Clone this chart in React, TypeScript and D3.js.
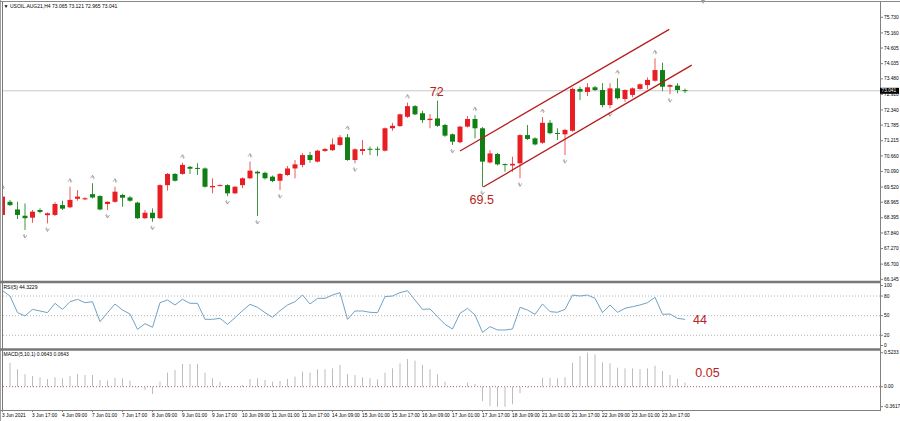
import React from 'react';
import * as d3 from 'd3';

const W = 900;
const H = 421;

const openP = [
  68.50, 68.98, 68.70, 68.47, 68.40, 68.68, 68.49, 68.50, 68.86, 68.78,
  69.09, 69.07, 69.26, 69.19, 68.90, 68.98, 69.23, 69.14, 68.95, 68.38,
  68.58, 68.38, 69.59, 70.00, 70.00, 70.26, 70.22, 70.20, 69.51, 69.57,
  69.59, 69.29, 69.59, 69.84, 70.08, 70.04, 69.90, 69.75, 69.96, 70.20,
  70.33, 70.69, 70.45, 70.84, 70.87, 71.06, 71.34, 70.51, 70.84, 70.92,
  70.92, 70.85, 71.67, 71.75, 72.09, 72.48, 72.22, 71.97, 72.03, 71.79,
  71.45, 71.16, 71.73, 72.01, 71.67, 70.42, 70.73, 70.36, 70.31, 70.39,
  71.42, 71.30, 71.14, 71.87, 71.50, 71.45, 71.58, 73.11, 73.00, 73.17,
  73.07, 72.52, 73.13, 72.74, 72.89, 73.11, 73.25, 73.41, 73.80, 73.19,
  73.23, 73.065,
];
const highP = [
  69.30, 69.05, 68.98, 68.92, 68.68, 68.74, 68.59, 68.97, 69.02, 69.53,
  69.41, 69.15, 69.66, 69.22, 69.00, 69.53, 69.27, 69.19, 68.98, 68.68,
  68.74, 69.62, 70.03, 70.03, 70.41, 70.29, 70.39, 70.24, 69.84, 69.62,
  69.62, 69.56, 69.87, 70.45, 70.12, 70.08, 69.94, 70.03, 70.29, 70.51,
  70.76, 70.81, 70.88, 70.95, 71.30, 71.42, 71.46, 70.94, 71.24, 71.00,
  71.00, 71.70, 71.87, 72.21, 72.61, 72.52, 72.31, 72.19, 72.68, 71.83,
  71.48, 71.76, 72.12, 72.15, 71.72, 70.87, 70.77, 70.38, 70.63, 71.45,
  71.79, 71.34, 72.08, 71.97, 71.67, 71.65, 73.16, 73.19, 73.32, 73.22,
  73.32, 73.32, 73.50, 73.10, 73.16, 73.31, 73.53, 74.23, 74.07, 73.28,
  73.32, 73.121,
];
const lowP = [
  68.42, 68.83, 68.35, 67.95, 68.21, 68.56, 68.19, 68.46, 68.68, 68.75,
  69.02, 69.04, 69.10, 68.67, 68.68, 68.95, 68.80, 68.98, 68.35, 68.35,
  68.25, 68.35, 69.39, 69.72, 69.97, 70.00, 69.96, 69.50, 69.29, 69.55,
  69.19, 69.26, 69.48, 69.81, 68.46, 69.80, 69.70, 69.41, 69.93, 69.84,
  70.24, 70.41, 70.42, 70.80, 70.84, 71.02, 70.48, 70.39, 70.69, 70.69,
  70.65, 70.82, 71.58, 71.72, 72.05, 72.15, 71.87, 71.67, 71.72, 71.36,
  71.06, 71.12, 71.70, 71.30, 69.53, 70.38, 70.31, 70.08, 70.08, 69.84,
  71.24, 71.04, 71.10, 71.45, 71.24, 70.69, 71.54, 72.70, 72.85, 73.03,
  72.44, 72.40, 72.73, 72.64, 72.80, 73.08, 73.10, 73.38, 73.03, 72.92,
  72.95, 72.965,
];
const closeP = [
  69.17, 68.86, 68.50, 68.38, 68.62, 68.61, 68.56, 68.90, 68.73, 69.05,
  69.17, 69.11, 69.14, 68.70, 68.98, 69.35, 69.13, 69.02, 68.38, 68.58,
  68.38, 69.59, 70.00, 69.75, 70.33, 70.19, 70.20, 69.53, 69.56, 69.59,
  69.29, 69.53, 69.84, 70.12, 70.02, 69.84, 69.74, 70.00, 70.20, 70.35,
  70.69, 70.51, 70.85, 70.91, 71.08, 71.34, 70.51, 70.90, 70.91, 70.90,
  70.90, 71.67, 71.76, 72.18, 72.48, 72.18, 71.97, 72.02, 71.76, 71.40,
  71.18, 71.73, 72.01, 71.67, 70.45, 70.75, 70.35, 70.35, 70.37, 71.42,
  71.28, 71.08, 71.87, 71.49, 71.48, 71.61, 73.11, 73.01, 73.17, 73.07,
  72.52, 73.13, 72.77, 73.07, 73.13, 73.28, 73.44, 73.80, 73.19, 73.25,
  73.07, 73.041,
];
const rsiVals = [
  88.1, 80.0, 54.6, 49.5, 59.6, 57.1, 54.6, 68.8, 59.6, 71.3,
  74.9, 69.8, 71.3, 40.8, 54.6, 67.8, 58.6, 52.5, 29.1, 37.8,
  32.2, 69.8, 73.9, 66.3, 74.9, 68.8, 68.8, 44.4, 44.4, 45.9,
  36.7, 46.9, 57.6, 67.3, 62.7, 54.6, 47.4, 57.6, 66.3, 71.3,
  81.5, 67.8, 76.4, 76.4, 81.5, 85.1, 44.4, 57.1, 57.1, 55.1,
  54.6, 79.0, 80.0, 85.1, 88.1, 73.9, 59.6, 60.2, 48.4, 36.7,
  29.6, 53.5, 61.2, 51.0, 24.5, 33.2, 28.1, 28.1, 29.6, 62.7,
  58.6, 52.0, 67.8, 56.1, 55.1, 59.6, 81.5, 80.0, 81.5, 76.4,
  54.6, 66.3, 55.1, 61.2, 63.7, 66.3, 69.8, 78.0, 52.0, 52.5,
  45.9, 44.3229,
];
const macdVals = [
  0.400, 0.370, 0.267, 0.190, 0.165, 0.144, 0.119, 0.144, 0.129, 0.165,
  0.195, 0.180, 0.180, 0.103, 0.093, 0.139, 0.129, 0.093, -0.010, -0.051,
  -0.112, 0.077, 0.216, 0.257, 0.349, 0.349, 0.349, 0.216, 0.129, 0.077,
  0.011, 0.011, 0.026, 0.119, 0.129, 0.103, 0.077, 0.088, 0.119, 0.154,
  0.231, 0.216, 0.267, 0.267, 0.283, 0.334, 0.195, 0.180, 0.144, 0.129,
  0.113, 0.216, 0.283, 0.360, 0.426, 0.401, 0.334, 0.267, 0.190, 0.077,
  0.010, 0.020, 0.062, 0.042, -0.220, -0.300, -0.310, -0.310, -0.270, -0.100,
  -0.015, 0.005, 0.139, 0.139, 0.129, 0.144, 0.370, 0.473, 0.5233, 0.498,
  0.375, 0.360, 0.293, 0.283, 0.283, 0.272, 0.283, 0.324, 0.242, 0.180,
  0.119, 0.0643,
];
const priceTicks = [75.73, 75.16, 74.605, 74.035, 73.48, 72.91, 72.34, 71.785, 71.215, 70.66, 70.09, 69.52, 68.965, 68.395, 67.84, 67.27, 66.7, 66.145];
const rsiTicks = [100, 80, 50, 20, 0];
const rsiLevels = [80, 50, 20];
const macdTicks = [0.5233, 0, -0.3617];
const timeLabels = [
  '3 Jun 2021', '3 Jun 17:00', '4 Jun 09:00', '7 Jun 01:00', '7 Jun 17:00', '8 Jun 09:00',
  '9 Jun 01:00', '9 Jun 17:00', '10 Jun 09:00', '11 Jun 01:00', '11 Jun 17:00', '14 Jun 09:00',
  '15 Jun 01:00', '15 Jun 17:00', '16 Jun 09:00', '17 Jun 01:00', '17 Jun 17:00', '18 Jun 09:00',
  '21 Jun 01:00', '21 Jun 17:00', '22 Jun 09:00', '23 Jun 01:00', '23 Jun 17:00',
];
const fractalUp = [0, 9, 12, 15, 24, 33, 46, 54, 58, 63, 72, 82, 87];
const fractalDown = [3, 6, 14, 20, 30, 34, 37, 47, 60, 64, 69, 75, 81, 89];
const channelUpper = [[61.0, 70.84], [88.9, 75.29]];
const channelLower = [[64.1, 69.52], [91.9, 73.98]];
const priceNotes = [{ text: '72', i: 57.9, v: 72.85 }, { text: '69.5', i: 63.9, v: 68.9 }];
const rsiNote = { text: '44', i: 93.0, v: 37.3 };
const macdNote = { text: '0.05', i: 94.0, v: 0.149 };

const RED = '#e81e25';
const GREEN = '#118014';
const RED_W = '#ec5a5a';
const GREEN_W = '#3f943f';
const NOTE = '#b82222';
const AX = '#808080';
const FONT = '"Liberation Sans", Arial, sans-serif';

export default function App() {
  const n = closeP.length;
  const idx = d3.range(n);
  const x = d3.scaleLinear().domain([0, 91]).range([2.5, 685]);
  const yP = d3.scaleLinear().domain([66.145, 75.73]).range([279.3, 17.3]);
  const yR = d3.scaleLinear().domain([0, 100]).range([348.4, 282.9]);
  const yM = d3.scaleLinear().domain([-0.3617, 0.5233]).range([410.2, 352.7]);
  const last = n - 1;
  const rsiLine = d3.line<number>().x((d, i) => x(i)).y((d) => yR(d))(rsiVals) || '';
  const chLine = d3.line<number[]>().x((d) => x(d[0])).y((d) => yP(d[1]));
  const title = `USOIL.AUG21,H4  ${openP[last].toFixed(3)} ${highP[last].toFixed(3)} ${lowP[last].toFixed(3)} ${closeP[last].toFixed(3)}`;

  return (
    <svg width={W} height={H} style={{ position: 'absolute', left: 0, top: 0, background: '#fff' }} fontFamily={FONT}>
      <defs>
        <clipPath id="cpMain"><rect x={3} y={3} width={877} height={278} /></clipPath>
        <clipPath id="cpRsi"><rect x={3} y={284} width={877} height={64} /></clipPath>
        <clipPath id="cpMacd"><rect x={3} y={351} width={877} height={59} /></clipPath>
      </defs>
      <rect x={0} y={0} width={W} height={H} fill="#fff" />

      {/* main panel */}
      <g clipPath="url(#cpMain)">
        <line x1={3} x2={880} y1={yP(closeP[last])} y2={yP(closeP[last])} stroke="#c8c8c8" strokeWidth={1} />
        {idx.map((i) => {
          const up = closeP[i] >= openP[i];
          const top = yP(Math.max(openP[i], closeP[i]));
          const bot = yP(Math.min(openP[i], closeP[i]));
          return (
            <g key={i}>
              <line x1={x(i)} x2={x(i)} y1={yP(highP[i])} y2={yP(lowP[i])} stroke={up ? RED_W : GREEN_W} strokeWidth={1} />
              <rect x={x(i) - 2.5} y={top} width={5} height={Math.max(1, bot - top)} fill={up ? RED : GREEN} />
            </g>
          );
        })}
        {fractalUp.map((i) => {
          const cx = x(i), cy = yP(highP[i]) - 6;
          return <path key={'u' + i} d={`M${cx - 2},${cy + 1} L${cx},${cy - 2} L${cx + 2},${cy + 1} M${cx},${cy - 2} L${cx + 1},${cy + 2}`} stroke="#9a9a9a" strokeWidth={0.8} fill="none" />;
        })}
        {fractalDown.map((i) => {
          const cx = x(i), cy = yP(lowP[i]) + 6;
          return <path key={'d' + i} d={`M${cx - 2},${cy - 1} L${cx},${cy + 2} L${cx + 2},${cy - 1} M${cx},${cy + 2} L${cx - 1},${cy - 2}`} stroke="#9a9a9a" strokeWidth={0.8} fill="none" />;
        })}
        <path d={chLine(channelUpper) || ''} stroke="#b81c1c" strokeWidth={1.3} fill="none" />
        <path d={chLine(channelLower) || ''} stroke="#b81c1c" strokeWidth={1.3} fill="none" />
        {priceNotes.map((a) => (
          <text key={a.text} x={x(a.i)} y={yP(a.v)} fontSize={12.5} fill={NOTE} textAnchor="middle">{a.text}</text>
        ))}
      </g>
      <text x={3.5} y={8} fontSize={5} fill="#000">▼</text>
      <text x={10} y={8} fontSize={5} fill="#000">{title}</text>

      {/* RSI panel */}
      <g clipPath="url(#cpRsi)">
        {rsiLevels.map((v) => (
          <line key={v} x1={3} x2={880} y1={yR(v)} y2={yR(v)} stroke="#b4b4b4" strokeWidth={1} strokeDasharray="1,2" />
        ))}
        <path d={rsiLine} stroke="#72a2c4" strokeWidth={1} fill="none" />
        <text x={x(rsiNote.i)} y={yR(rsiNote.v)} fontSize={12.5} fill={NOTE} textAnchor="middle">{rsiNote.text}</text>
      </g>
      <text x={3.5} y={289} fontSize={5} fill="#000">{`RSI(5) ${rsiVals[last].toFixed(4)}`}</text>

      {/* MACD panel */}
      <g clipPath="url(#cpMacd)">
        <line x1={3} x2={880} y1={yM(0)} y2={yM(0)} stroke="#b06060" strokeWidth={1} strokeDasharray="1,2" />
        {idx.map((i) => (
          <line key={i} x1={x(i)} x2={x(i)} y1={yM(0)} y2={yM(macdVals[i])} stroke="#bcbcbc" strokeWidth={1} />
        ))}
        <text x={x(macdNote.i)} y={yM(macdNote.v)} fontSize={12.5} fill={NOTE} textAnchor="middle">{macdNote.text}</text>
      </g>
      <text x={3.5} y={356} fontSize={5} fill="#000">{`MACD(5,10,1) ${macdVals[last].toFixed(4)} ${macdVals[last].toFixed(4)}`}</text>

      {/* frames */}
      <line x1={0.5} x2={0.5} y1={0} y2={H} stroke="#a0a0a0" strokeWidth={1} />
      <line x1={2.5} x2={2.5} y1={2} y2={410} stroke="#7a7a7a" strokeWidth={1} />
      <line x1={0} x2={W} y1={1.5} y2={1.5} stroke="#8a8a8a" strokeWidth={1} />
      <line x1={0} x2={880} y1={282} y2={282} stroke="#787878" strokeWidth={2.5} />
      <line x1={0} x2={880} y1={349.5} y2={349.5} stroke="#787878" strokeWidth={2.5} />
      <line x1={880.5} x2={880.5} y1={2} y2={410} stroke={AX} strokeWidth={1} />
      <line x1={0} x2={881} y1={410.5} y2={410.5} stroke={AX} strokeWidth={1} />
      <path d="M701,0 L705,0 L703,4 Z" fill="#9a9a9a" />

      {/* price axis */}
      {priceTicks.map((v) => (
        <g key={v}>
          <line x1={880} x2={883} y1={yP(v)} y2={yP(v)} stroke={AX} />
          <text x={884} y={yP(v)} dy="0.35em" fontSize={4.8} fill="#000">{v.toFixed(3)}</text>
        </g>
      ))}
      <rect x={880} y={yP(closeP[last]) - 3} width={19} height={6} fill="#000" />
      <text x={881.5} y={yP(closeP[last])} dy="0.35em" fontSize={4.8} fill="#fff">{closeP[last].toFixed(3)}</text>

      {/* RSI axis */}
      {rsiTicks.map((v) => {
        const yy = Math.min(Math.max(yR(v), 285.5), 345.5);
        return (
          <g key={v}>
            <line x1={880} x2={883} y1={yy} y2={yy} stroke={AX} />
            <text x={884} y={yy} dy="0.35em" fontSize={4.8} fill="#000">{v}</text>
          </g>
        );
      })}

      {/* MACD axis */}
      {macdTicks.map((v) => {
        const yy = Math.min(Math.max(yM(v), 352.7), 406.7);
        return (
          <g key={v}>
            <line x1={880} x2={883} y1={yy} y2={yy} stroke={AX} />
            <text x={884} y={yy} dy="0.35em" fontSize={4.8} fill="#000">{v === 0 ? '0.00' : v.toFixed(4)}</text>
          </g>
        );
      })}

      {/* time axis */}
      {timeLabels.map((t, k) => (
        <g key={t}>
          <line x1={x(k * 4)} x2={x(k * 4)} y1={410} y2={412} stroke={AX} />
          <text x={x(k * 4) - 0.5} y={417} fontSize={4.8} fill="#000">{t}</text>
        </g>
      ))}
    </svg>
  );
}
